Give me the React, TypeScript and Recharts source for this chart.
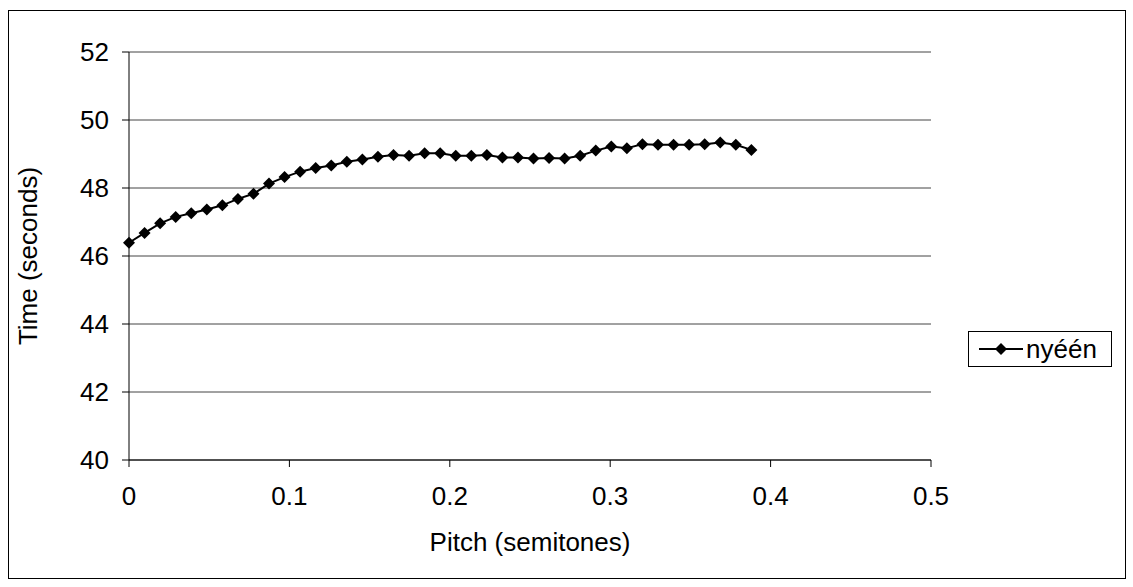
import React from 'react';
import { LineChart, Line, XAxis, YAxis, CartesianGrid } from 'recharts';

const pitch = [
  0, 0.0097, 0.0194, 0.0291, 0.0388, 0.0485, 0.0582, 0.0679, 0.0776, 0.0873,
  0.097, 0.1067, 0.1164, 0.1261, 0.1358, 0.1455, 0.1552, 0.1649, 0.1746, 0.1843,
  0.194, 0.2037, 0.2134, 0.2231, 0.2328, 0.2425, 0.2522, 0.2619, 0.2716, 0.2813,
  0.291, 0.3007, 0.3104, 0.3201, 0.3298, 0.3395, 0.3492, 0.3589, 0.3686, 0.3783,
  0.388,
];

const time = [
  46.39, 46.68, 46.96, 47.15, 47.26, 47.37, 47.49, 47.68, 47.83, 48.13,
  48.32, 48.48, 48.59, 48.66, 48.77, 48.84, 48.92, 48.97, 48.95, 49.02,
  49.02, 48.95, 48.95, 48.97, 48.9, 48.9, 48.87, 48.88, 48.87, 48.95,
  49.1, 49.22, 49.17, 49.29, 49.27, 49.27, 49.27, 49.29, 49.34, 49.27,
  49.12,
];

const xTicks = [0, 0.1, 0.2, 0.3, 0.4, 0.5];
const yTicks = [40, 42, 44, 46, 48, 50, 52];
const seriesName = 'nyéén';

const data = pitch.map((p, i) => ({ x: p, y: time[i] }));

const FONT = '"Liberation Sans", Arial, sans-serif';
const FS = 26;

const Diamond = (props: any) => {
  const { cx, cy } = props;
  if (cx == null || cy == null) return null;
  const r = 6;
  return (
    <path
      d={`M${cx},${cy - r} L${cx + r},${cy} L${cx},${cy + r} L${cx - r},${cy} Z`}
      fill="#000"
      stroke="none"
    />
  );
};

// legend drawn as a plain box so it does not eat into the plot area
const LegendBox = () => (
  <div
    style={{
      position: 'absolute',
      left: 968,
      top: 331,
      width: 142,
      height: 34,
      border: '1px solid #000',
      background: '#fff',
      display: 'flex',
      alignItems: 'center',
      fontFamily: FONT,
      fontSize: FS,
    }}
  >
    <svg width={56} height={34}>
      <line x1={10} y1={17} x2={54} y2={17} stroke="#000" strokeWidth={2} />
      <path d="M32,11 L38,17 L32,23 L26,17 Z" fill="#000" />
    </svg>
    <span style={{ marginLeft: 1 }}>{seriesName}</span>
  </div>
);

export default function App() {
  return (
    <div style={{ position: 'absolute', left: 0, top: 0, width: 1133, height: 587, background: '#fff' }}>
      <div
        style={{
          position: 'absolute',
          left: 8,
          top: 10,
          width: 1116,
          height: 567,
          border: '1px solid #000',
        }}
      />
      <div style={{ position: 'absolute', left: 0, top: 0 }}>
        <LineChart
          width={1133}
          height={587}
          data={data}
          margin={{ top: 52, right: 202, left: 0, bottom: 0 }}
        >
          <CartesianGrid horizontal vertical={false} stroke="#444" strokeWidth={1} />
          <XAxis
            type="number"
            dataKey="x"
            domain={[0, 0.5]}
            ticks={xTicks}
            height={127}
            tickSize={7}
            tickMargin={20}
            axisLine={{ stroke: '#000' }}
            tickLine={{ stroke: '#000' }}
            tick={{ fill: '#000', fontSize: FS, fontFamily: FONT }}
            label={({ viewBox }: any) => (
              <text
                x={viewBox.x + viewBox.width / 2}
                y={viewBox.y + 91}
                textAnchor="middle"
                fill="#000"
                fontSize={FS}
                fontFamily={FONT}
              >
                Pitch (semitones)
              </text>
            )}
          />
          <YAxis
            type="number"
            domain={[40, 52]}
            ticks={yTicks}
            width={129}
            tickSize={7}
            tickMargin={13}
            axisLine={{ stroke: '#000' }}
            tickLine={{ stroke: '#000' }}
            tick={{ fill: '#000', fontSize: FS, fontFamily: FONT }}
            label={({ viewBox }: any) => {
              const cy = viewBox.y + viewBox.height / 2;
              return (
                <text
                  x={37}
                  y={cy}
                  transform={`rotate(-90, 37, ${cy})`}
                  textAnchor="middle"
                  fill="#000"
                  fontSize={FS}
                  fontFamily={FONT}
                >
                  Time (seconds)
                </text>
              );
            }}
          />
          <Line
            type="linear"
            dataKey="y"
            name={seriesName}
            stroke="#000"
            strokeWidth={2}
            dot={<Diamond />}
            activeDot={false}
            isAnimationActive={false}
          />
        </LineChart>
      </div>
      <LegendBox />
    </div>
  );
}
